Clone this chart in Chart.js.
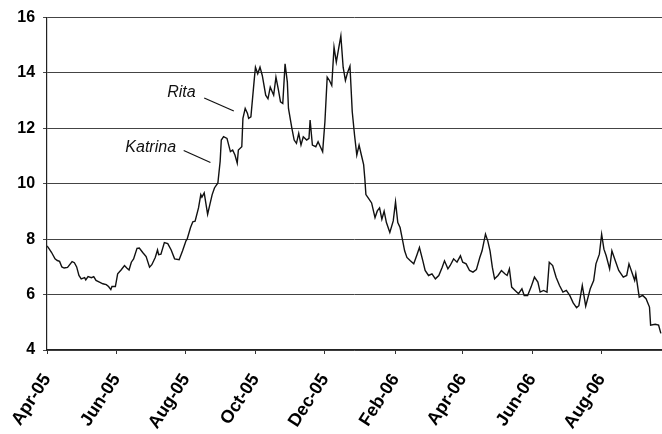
<!DOCTYPE html>
<html>
<head>
<meta charset="utf-8">
<script src="https://cdn.jsdelivr.net/npm/chart.js@4.4.1/dist/chart.umd.min.js"></script>
<style>
  html, body { margin: 0; padding: 0; background: #fff; }
  #wrap { width: 662px; height: 434px; position: relative; }
</style>
</head>
<body>
<div id="wrap"><canvas id="priceChart"></canvas></div>
<script>
// days counted from 1 Apr 2005
const days = [0, 2, 4, 7, 9, 11, 13, 15, 18, 22, 24, 26, 28, 30, 33, 34, 36, 39, 41, 43, 46, 49, 52, 54, 56, 57, 60,
  62, 65, 68, 70, 72, 74, 76, 79, 81, 84, 87, 90, 92, 95, 97, 98, 100, 103, 106, 109, 112, 116, 119, 122,
  123, 126, 128, 130, 133, 135, 136, 138, 141, 143, 145, 147, 150, 152, 153, 155, 158, 161, 163, 165, 167, 168,
  171, 172, 174, 176, 177, 179, 182, 183, 185, 187, 189, 192, 194, 196, 199, 201, 203, 205, 207, 209, 211,
  212, 215, 217, 219, 221, 223, 225, 228, 230, 231, 233, 236, 238, 240, 242, 244, 246, 248, 250, 252, 254,
  256, 258, 260, 262, 264, 266, 268, 270, 272, 274, 276, 278, 279, 280, 282, 285, 288, 290, 292, 294, 296,
  298, 301, 304, 306, 308, 310, 312, 314, 316, 319, 322, 325, 327, 330, 332, 335, 338, 341, 344, 347, 349,
  352, 354, 357, 360, 363, 365, 368, 371, 374, 377, 380, 382, 385, 387, 389, 391, 393, 396, 399, 402, 404,
  406, 408, 411, 414, 417, 419, 422, 425, 428, 431, 433, 436, 439, 441, 444, 447, 450, 453, 456, 459, 462,
  465, 467, 470, 473, 477, 480, 482, 485, 487, 489, 491, 494, 496, 499, 502, 506, 509, 511, 514, 516, 517,
  520, 523, 526, 529, 530, 534, 537, 539];
const prices = [7.76, 7.64, 7.52, 7.29, 7.23, 7.20, 7.00, 6.96, 6.98, 7.19, 7.15, 7.00, 6.69, 6.57, 6.61, 6.53, 6.65, 6.61, 6.65, 6.51, 6.45, 6.39, 6.36, 6.29, 6.18, 6.29, 6.29,
  6.75, 6.89, 7.05, 6.96, 6.89, 7.17, 7.29, 7.67, 7.68, 7.52, 7.37, 6.99, 7.08, 7.34, 7.61, 7.44, 7.46, 7.88, 7.84, 7.61, 7.29, 7.26, 7.58, 7.94,
  8.00, 8.42, 8.63, 8.65, 9.13, 9.61, 9.52, 9.67, 8.90, 9.26, 9.61, 9.85, 10.03, 10.81, 11.58, 11.70, 11.64, 11.16, 11.22, 11.04, 10.75, 11.22,
  11.34, 12.36, 12.72, 12.54, 12.36, 12.42, 13.79, 14.21, 13.97, 14.21, 13.91, 13.20, 13.07, 13.49, 13.20, 13.85, 13.43, 12.96, 12.90, 14.33, 13.67,
  12.72, 12.00, 11.58, 11.46, 11.82, 11.40, 11.70, 11.58, 11.64, 12.30, 11.40, 11.34, 11.52, 11.34, 11.16, 12.24, 13.85, 13.73, 13.55, 14.93, 14.39,
  14.87, 15.34, 14.21, 13.73, 14.03, 14.25, 12.60, 11.76, 11.04, 11.40, 11.04, 10.69, 10.21, 9.61, 9.49, 9.31, 8.78, 9.02, 9.13, 8.72, 9.01,
  8.60, 8.24, 8.66, 9.35, 8.60, 8.42, 8.00, 7.58, 7.34, 7.22, 7.11, 7.46, 7.70, 7.22, 6.87, 6.69, 6.75, 6.57, 6.69, 6.99, 7.22,
  6.93, 7.05, 7.29, 7.17, 7.40, 7.17, 7.11, 6.87, 6.81, 6.90, 7.34, 7.58, 8.18, 7.94, 7.58, 6.99, 6.57, 6.69, 6.87, 6.75, 6.69,
  6.93, 6.27, 6.15, 6.03, 6.21, 5.97, 5.97, 6.27, 6.63, 6.45, 6.09, 6.15, 6.09, 7.17, 7.05, 6.63, 6.33, 6.09, 6.15, 5.97, 5.70,
  5.53, 5.60, 6.33, 5.58, 6.21, 6.51, 7.11, 7.46, 8.18, 7.64, 7.40, 6.93, 7.58, 7.22, 6.87, 6.63, 6.69, 7.11, 6.75, 6.51, 6.75,
  5.91, 5.97, 5.85, 5.55, 4.90, 4.93, 4.90, 4.60];

const tickDays = [0, 61, 122, 183, 244, 306, 365, 426, 487];
const tickLabels = ['Apr-05', 'Jun-05', 'Aug-05', 'Oct-05', 'Dec-05', 'Feb-06', 'Apr-06', 'Jun-06', 'Aug-06'];

// hurricane notes: label position and leader line, in data units
const notes = [
  { text: 'Rita', x: 118, y: 13.31, line: [[138, 13.10], [164, 12.63]] },
  { text: 'Katrina', x: 91, y: 11.31, line: [[120, 11.20], [143.5, 10.77]] }
];

const points = days.map((d, i) => ({ x: d, y: prices[i] }));

const notePlugin = {
  id: 'notes',
  afterDatasetsDraw(chart) {
    const ctx = chart.ctx;
    const xs = chart.scales.x, ys = chart.scales.y;
    ctx.save();
    ctx.fillStyle = '#111';
    ctx.strokeStyle = '#111';
    ctx.lineWidth = 1.2;
    ctx.font = 'italic 16px "Liberation Sans", Arial, sans-serif';
    ctx.textAlign = 'center';
    ctx.textBaseline = 'middle';
    notes.forEach(n => {
      ctx.fillText(n.text, xs.getPixelForValue(n.x), ys.getPixelForValue(n.y));
      ctx.beginPath();
      ctx.moveTo(xs.getPixelForValue(n.line[0][0]), ys.getPixelForValue(n.line[0][1]));
      ctx.lineTo(xs.getPixelForValue(n.line[1][0]), ys.getPixelForValue(n.line[1][1]));
      ctx.stroke();
    });
    ctx.restore();
  }
};

new Chart(document.getElementById('priceChart'), {
  type: 'line',
  data: {
    datasets: [{
      data: points,
      borderColor: '#111',
      borderWidth: 1.4,
      pointRadius: 0,
      tension: 0,
      fill: false
    }]
  },
  options: {
    responsive: true,
    maintainAspectRatio: false,
    animation: false,
    layout: { padding: { top: 15, right: 0, left: 0, bottom: 0 } },
    plugins: { legend: { display: false }, tooltip: { enabled: false } },
    scales: {
      x: {
        type: 'linear',
        min: 0,
        max: 540,
        afterBuildTicks: s => { s.ticks = tickDays.map(v => ({ value: v })); },
        afterFit: s => { s.height = 84; },
        grid: { drawOnChartArea: false, drawTicks: true, tickLength: 4, color: '#333' },
        border: { color: '#222', width: 1.2 },
        ticks: {
          autoSkip: false,
          minRotation: 57,
          maxRotation: 57,
          padding: 16,
          color: '#000',
          font: { family: '"Liberation Sans", Arial, sans-serif', size: 18, weight: 'bold' },
          callback: (v, i) => tickLabels[i]
        }
      },
      y: {
        min: 4,
        max: 16,
        afterFit: s => { s.width = 46; },
        grid: { color: '#444', lineWidth: 1, tickLength: 4 },
        border: { color: '#222', width: 1.2 },
        ticks: {
          stepSize: 2,
          padding: 8,
          color: '#000',
          font: { family: '"Liberation Sans", Arial, sans-serif', size: 16, weight: 'bold' }
        }
      }
    }
  },
  plugins: [notePlugin]
});
</script>
</body>
</html>
